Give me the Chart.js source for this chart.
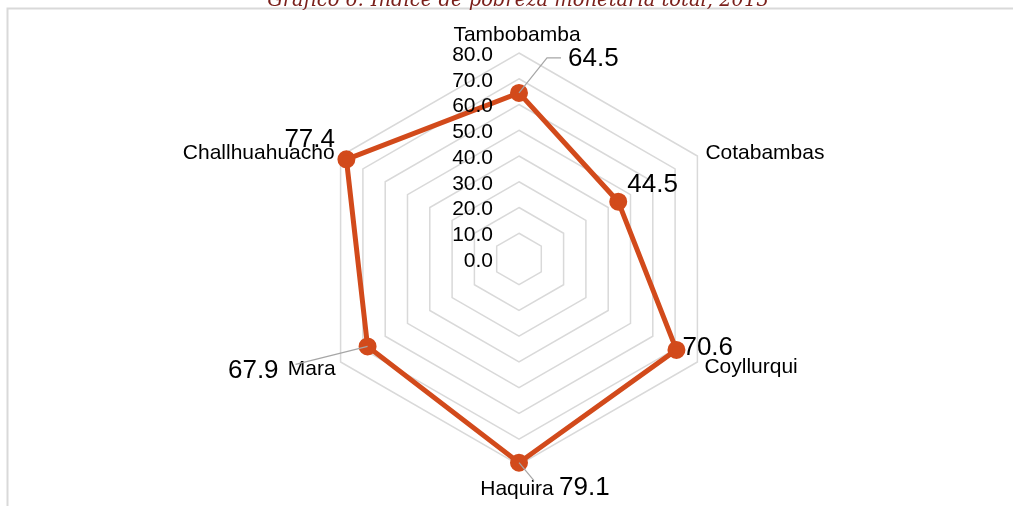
<!DOCTYPE html>
<html>
<head>
<meta charset="utf-8">
<script src="https://cdn.jsdelivr.net/npm/chart.js@4/dist/chart.umd.min.js"></script>
<style>
  body { margin: 0; background: #fff; }
  #canvas { display: block; }
</style>
</head>
<body>
<canvas id="canvas" width="1013" height="506"></canvas>
<script>
const title = "Gráfico 6: Índice de pobreza monetaria total, 2013";
const categories = ["Tambobamba", "Cotabambas", "Coyllurqui", "Haquira", "Mara", "Challhuahuacho"];
const pobreza = [64.5, 44.5, 70.6, 79.1, 67.9, 77.4];
const tickLabels = ["0.0", "10.0", "20.0", "30.0", "40.0", "50.0", "60.0", "70.0", "80.0"];

const lineColor = "#D24A1B";
const labelFont = '21px "Liberation Sans", Arial, sans-serif';
const valueFont = '26px "Liberation Sans", Arial, sans-serif';

// where each category name sits, relative to the outer ring vertex
const catPos = [
  { dx: -2, dy: -12, align: "center" },
  { dx: 8, dy: 3, align: "left" },
  { dx: 7, dy: 11, align: "left" },
  { dx: -2, dy: 30, align: "center" },
  { dx: -5, dy: 13, align: "right" },
  { dx: -6, dy: 3, align: "right" },
];

// where each value sits, relative to its point; lead = leader line end
const valPos = [
  { dx: 49, dy: -27, align: "left", lead: [[28, -35], [42, -35]] },
  { dx: 9, dy: -10, align: "left" },
  { dx: 6, dy: 5, align: "left" },
  { dx: 40, dy: 32, align: "left", lead: [[15, 18]] },
  { dx: -89, dy: 32, align: "right", lead: [[-72, 18]] },
  { dx: -62, dy: -12, align: "left" },
];

const frameAndText = {
  id: "frameAndText",
  beforeDraw(chart) {
    const ctx = chart.ctx;
    ctx.save();
    ctx.fillStyle = "#fff";
    ctx.fillRect(0, 0, chart.width, chart.height);
    // frame (left and top edges only are in view)
    ctx.strokeStyle = "#d9d9d9";
    ctx.lineWidth = 2;
    ctx.beginPath();
    ctx.moveTo(7.5, chart.height);
    ctx.lineTo(7.5, 8.5);
    ctx.lineTo(chart.width, 8.5);
    ctx.stroke();
    // title, cut at the top
    ctx.fillStyle = "#7A1F1A";
    ctx.font = 'italic 19.5px "DejaVu Serif", serif';
    ctx.textAlign = "center";
    ctx.textBaseline = "alphabetic";
    ctx.fillText(title, 518, 6);
    ctx.restore();
  },
  afterDatasetsDraw(chart) {
    const ctx = chart.ctx;
    const r = chart.scales.r;
    const pts = chart.getDatasetMeta(0).data;
    ctx.save();
    // tick labels left of the vertical axis
    ctx.fillStyle = "#000";
    ctx.font = labelFont;
    ctx.textAlign = "right";
    ctx.textBaseline = "middle";
    r.ticks.forEach((t, i) => {
      const y = r.yCenter - r.getDistanceFromCenterForValue(t.value);
      ctx.fillText(tickLabels[i], r.xCenter - 26, y + 2);
    });
    // category names
    ctx.textBaseline = "alphabetic";
    categories.forEach((c, i) => {
      const p = r.getPointPosition(i, r.drawingArea);
      ctx.textAlign = catPos[i].align;
      ctx.fillText(c, p.x + catPos[i].dx, p.y + catPos[i].dy);
    });
    // leader lines
    ctx.strokeStyle = "#a6a6a6";
    ctx.lineWidth = 1.2;
    pts.forEach((pt, i) => {
      const lead = valPos[i].lead;
      if (!lead) return;
      ctx.beginPath();
      ctx.moveTo(pt.x, pt.y);
      lead.forEach(l => ctx.lineTo(pt.x + l[0], pt.y + l[1]));
      ctx.stroke();
    });
    ctx.restore();
  },
  afterDraw(chart) {
    const ctx = chart.ctx;
    const pts = chart.getDatasetMeta(0).data;
    ctx.save();
    ctx.fillStyle = "#000";
    ctx.font = valueFont;
    ctx.textBaseline = "alphabetic";
    pts.forEach((pt, i) => {
      ctx.textAlign = valPos[i].align;
      ctx.fillText(pobreza[i].toFixed(1), pt.x + valPos[i].dx, pt.y + valPos[i].dy);
    });
    ctx.restore();
  },
};

new Chart(document.getElementById("canvas"), {
  type: "radar",
  data: {
    labels: categories,
    datasets: [
      {
        data: pobreza,
        borderColor: lineColor,
        backgroundColor: lineColor,
        borderWidth: 5,
        pointRadius: 6.5,
        pointBackgroundColor: lineColor,
        pointBorderColor: lineColor,
        fill: false,
        tension: 0,
      },
    ],
  },
  options: {
    responsive: false,
    animation: false,
    layout: { padding: { left: 25, right: 0, top: 53, bottom: 41 } },
    plugins: { legend: { display: false }, tooltip: { enabled: false } },
    scales: {
      r: {
        min: 0,
        max: 80,
        ticks: { stepSize: 10, display: false },
        pointLabels: { display: false },
        angleLines: { display: false },
        grid: { color: "#d9d9d9", lineWidth: 1.5 },
      },
    },
  },
  plugins: [frameAndText],
});
</script>
</body>
</html>
